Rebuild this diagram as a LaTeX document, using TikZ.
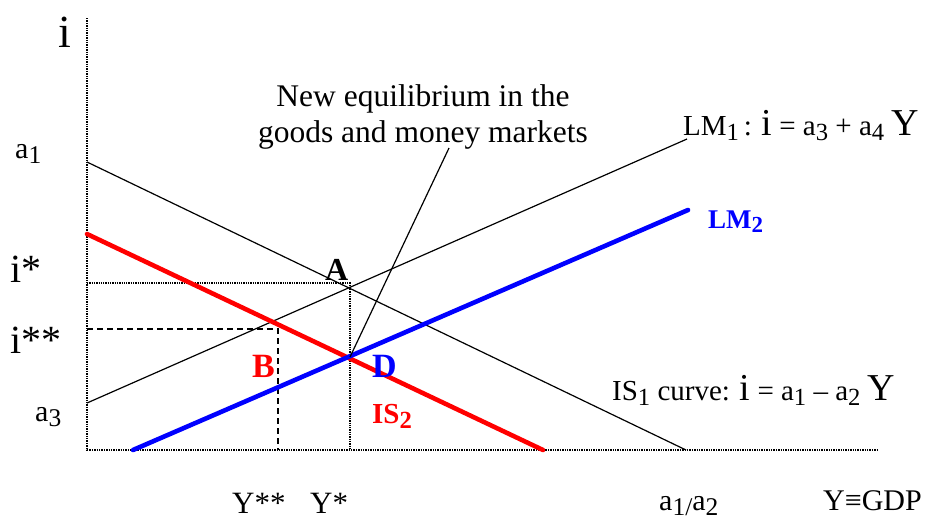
\documentclass[tikz,border=0pt]{standalone}
\usepackage{fontspec}
\setmainfont{Liberation Serif}
\newcommand{\fsz}[1]{\fontsize{#1}{#1}\selectfont}
\newcommand{\lo}[1]{\raisebox{-0.18em}{\scalebox{0.85}{#1}}}
\begin{document}
\begin{tikzpicture}[x=1pt, y=-1pt,
      axis/.style={densely dotted, line width=1.4pt},
      curve/.style={line width=1.2pt},
      shifted/.style={line width=4.6pt, line cap=round},
      guide/.style={densely dotted, line width=1.3pt},
      guidedash/.style={dash pattern=on 6pt off 4pt, line width=1.3pt},
      lbl/.style={inner sep=0pt, anchor=base west}]
      \useasboundingbox (0,0) rectangle (931,523);
      % axes
      \coordinate (O) at (87,450);
      \coordinate (itop) at (87,18);
      \coordinate (yend) at (878,450);
      \draw[axis] (itop) -- (O) -- (yend);

      % curves
      \coordinate (is1a) at (87,162);   \coordinate (is1b) at (686,450);
      \coordinate (lm1a) at (87,403);   \coordinate (lm1b) at (687,139);
      \coordinate (is2a) at (87,234);   \coordinate (is2b) at (543,450);
      \coordinate (lm2a) at (133,450);  \coordinate (lm2b) at (688,210);
      \coordinate (istar) at (87,283);  \coordinate (A) at (350,283);  \coordinate (ystar) at (350,450);
      \coordinate (idstar) at (87,329); \coordinate (B) at (278,329);  \coordinate (ydstar) at (278,450);
      \coordinate (D) at (350,357);     \coordinate (lead) at (449,148);

      \draw[guide] (istar) -- (A) -- (ystar);
      \draw[guidedash] (idstar) -- (B) -- (ydstar);
      \draw[curve] (is1a) -- (is1b);
      \draw[curve] (lm1a) -- (lm1b);
      \draw[shifted, red] (is2a) -- (is2b);
      \draw[shifted, blue] (lm2a) -- (lm2b);
      \draw[curve] (D) -- (lead);

      % labels
      \node[inner sep=0pt, anchor=base, align=center, font=\fontsize{31.5}{36}\selectfont]
        (neweq) at (423,142) {New equilibrium in the\\goods and money markets};
      \node[inner sep=0pt, anchor=base, font=\fsz{46}] (ilab) at (65,47) {i};
      \node[lbl, font=\fsz{30}] (a1lab) at (15,158) {a\lo{1}};
      \node[lbl, font=\fsz{40}] (islab) at (10,282) {i*};
      \node[lbl, font=\fsz{40}] (idslab) at (10,353) {i**};
      \node[lbl, font=\fsz{30}] (a3lab) at (35,421) {a\lo{3}};
      \node[lbl, font=\fsz{31}] (ydslab) at (232,513) {Y**};
      \node[lbl, font=\fsz{31}] (yslab) at (310,513) {Y*};
      \node[lbl, font=\fsz{30}] (a12lab) at (659,510) {a\lo{1/}a\lo{2}};
      \node[lbl, font=\fsz{30}] (gdplab) at (823,510) {Y≡GDP};
      \node[lbl, font=\fsz{29}] (lm1lab) at (683,135)
        {LM\lo{1}\,: {\fsz{38}i} = a\lo{3} + a\lo{4} {\fsz{38}Y}};
      \node[lbl, font=\fsz{27}\bfseries, text=blue] (lm2lab) at (708,228) {LM\lo{2}};
      \node[lbl, font=\fsz{29}] (is1lab) at (612,400)
        {IS\lo{1} curve: {\fsz{38}i} = a\lo{1} – a\lo{2} {\fsz{38}Y}};
      \node[lbl, font=\fsz{32}\bfseries] (Alab) at (325,280) {A};
      \node[lbl, font=\fsz{34}\bfseries, text=red] (Blab) at (252,377) {B};
      \node[lbl, font=\fsz{34}\bfseries, text=blue] (Dlab) at (372,377) {D};
      \node[lbl, font=\fsz{29}\bfseries, text=red] (is2lab) at (372,423) {IS\lo{2}};
    \end{tikzpicture}
\end{document}
